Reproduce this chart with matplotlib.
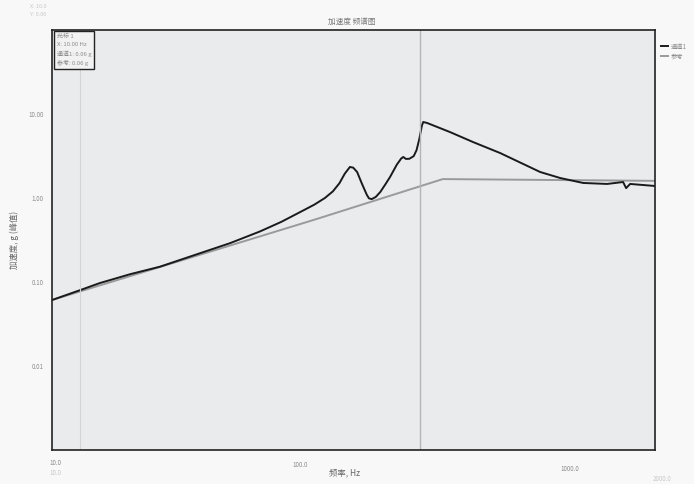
"""
plot.py - acceleration spectrum (scanned report), channel vs reference profile.
"""
import matplotlib
matplotlib.use("Agg")
import matplotlib.pyplot as plt

plt.rcParams["font.family"] = ["Noto Sans CJK SC", "DejaVu Sans"]

# channel 1 response (Hz, g)
FREQ_CH1 = [10, 12.8, 15.2, 19.9, 25.8, 36.7, 47.8, 62.2, 75, 88.5, 100, 110,
            118, 125, 131, 137, 141, 146, 152, 159, 162, 166, 172, 179, 187,
            195, 207, 215, 219, 224, 231, 240, 246, 252, 258, 261, 270, 330,
            404, 513, 729, 869, 1064, 1313, 1511, 1552, 1607, 2000]
ACC_CH1 = [0.061, 0.080, 0.097, 0.124, 0.152, 0.22, 0.29, 0.40, 0.52, 0.68,
           0.83, 1.0, 1.2, 1.5, 1.95, 2.34, 2.3, 2.04, 1.5, 1.09, 0.99, 0.97,
           1.03, 1.18, 1.45, 1.78, 2.5, 2.95, 3.08, 2.92, 2.93, 3.15, 3.7, 5.0,
           7.3, 8.03, 7.82, 6.1, 4.64, 3.43, 2.04, 1.73, 1.51, 1.47, 1.55, 1.31,
           1.47, 1.39]

# reference profile
FREQ_REF = [10, 100, 310, 2000]
ACC_REF = [0.061, 0.55, 1.68, 1.6]

CURSOR_F = 254
MARK_F = 12.8

YTICKS = [0.01, 0.1, 1, 10]
YTICK_LABELS = ["0.01", "0.10", "1.00", "10.00"]

TXT = "#8c8c8c"

fig = plt.figure(figsize=(6.94, 4.84), dpi=100, facecolor="#f8f8f8")
ax = fig.add_axes([52 / 694, 34 / 484, 603 / 694, 420 / 484], facecolor="#eaebed")

ax.plot(FREQ_REF, ACC_REF, color="#9a9a9a", lw=1.4, label="参考")
ax.plot(FREQ_CH1, ACC_CH1, color="#1a1a1a", lw=1.4, label="通道1")
ax.axvline(CURSOR_F, color="#b5b5b5", lw=1.0)
ax.axvline(MARK_F, color="#d4d4d4", lw=0.8)

ax.set_xscale("log")
ax.set_yscale("log")
ax.set_xlim(10, 2000)
ax.set_ylim(0.001, 100)
ax.minorticks_off()
ax.set_xticks([])
ax.set_yticks(YTICKS)
ax.set_yticklabels(YTICK_LABELS, fontsize=4.5, color=TXT)
ax.tick_params(axis="y", length=0, pad=6)
for s in ax.spines.values():
    s.set_color("#222222")
    s.set_linewidth(1.2)

# x-axis labels (scan layout)
fig.text(55 / 694, 1 - 463 / 484, "10.0", fontsize=4.5, color=TXT, ha="center", va="center")
fig.text(55 / 694, 1 - 473 / 484, "10.0", fontsize=4.5, color="#c8c8c8", ha="center", va="center")
fig.text(300 / 694, 1 - 465 / 484, "100.0", fontsize=4.5, color=TXT, ha="center", va="center")
fig.text(570 / 694, 1 - 469 / 484, "1000.0", fontsize=4.5, color=TXT, ha="center", va="center")
fig.text(662 / 694, 1 - 479 / 484, "2000.0", fontsize=4.5, color="#c8c8c8", ha="center", va="center")
fig.text(345 / 694, 1 - 473 / 484, "频率, Hz", fontsize=6, color="#666666", ha="center", va="center")

fig.text(14 / 694, 1 - 240 / 484, "加速度, g (峰值)", fontsize=6, color="#666666",
         rotation=90, ha="center", va="center")
fig.text(352 / 694, 1 - 22 / 484, "加速度 频谱图", fontsize=5.5, color="#777777",
         ha="center", va="center")

# faint header notes
fig.text(38 / 694, 1 - 6 / 484, "X: 10.0", fontsize=4, color="#c8c8c8", ha="center", va="center")
fig.text(38 / 694, 1 - 15 / 484, "Y: 0.06", fontsize=4, color="#c8c8c8", ha="center", va="center")

# cursor readout box
ax.text(0.008, 0.99, "光标 1\nX: 10.00 Hz\n通道1: 0.06 g\n参考: 0.06 g",
        transform=ax.transAxes, fontsize=4.3, color=TXT, va="top", ha="left",
        linespacing=1.6,
        bbox=dict(boxstyle="square,pad=0.5", fc="#f2f2f2", ec="#222222", lw=1.0))

h, l = ax.get_legend_handles_labels()
fig.legend(h[::-1], l[::-1], loc="upper left", bbox_to_anchor=(658 / 694, 1 - 40 / 484),
           fontsize=4.5, frameon=False, handlelength=1.2, handletextpad=0.4,
           labelcolor=TXT, borderaxespad=0, labelspacing=0.3)

fig.savefig("out.png", dpi=100, facecolor=fig.get_facecolor())
